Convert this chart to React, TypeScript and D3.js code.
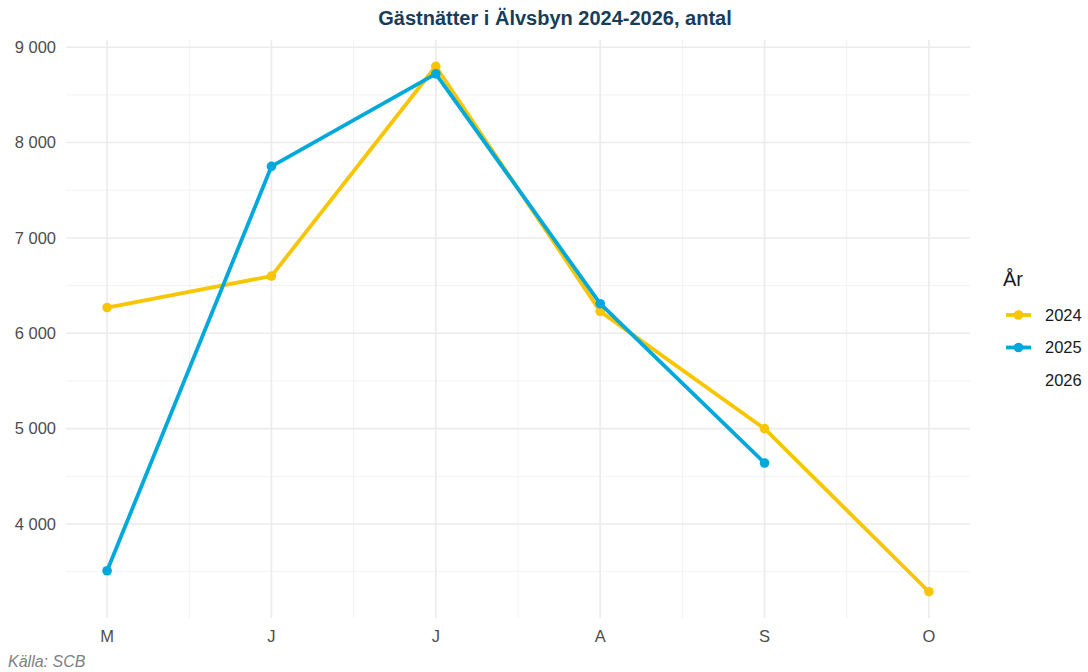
import * as d3 from 'd3';

const months = ['M', 'J', 'J', 'A', 'S', 'O'];
const years = ['2024', '2025', '2026'];
const values2024 = [6270, 6600, 8800, 6230, 5000, 3290];
const values2025 = [3510, 7750, 8720, 6310, 4640];
const yTicks = [4000, 5000, 6000, 7000, 8000, 9000];
const yMinor = [3500, 4500, 5500, 6500, 7500, 8500];
const colors: Record<string, string> = { '2024': '#F7C600', '2025': '#00A8DB' };

const W = 1088;
const H = 672;
const margin = { top: 40, right: 118, bottom: 54, left: 66 };
const font = '"Liberation Sans", Arial, sans-serif';

export default function App() {
  const innerW = W - margin.left - margin.right;
  const innerH = H - margin.top - margin.bottom;

  const x = d3
    .scalePoint<number>()
    .domain(months.map((_, i) => i))
    .range([0, innerW])
    .padding(0.25);

  const all = [...values2024, ...values2025];
  const lo = d3.min(all) as number;
  const hi = d3.max(all) as number;
  const pad = (hi - lo) * 0.05;
  const y = d3.scaleLinear().domain([lo - pad, hi + pad]).range([innerH, 0]);

  const step = x.step();
  const series = [
    { year: '2024', values: values2024 },
    { year: '2025', values: values2025 },
  ];

  const line = d3
    .line<number>()
    .x((_, i) => x(i) as number)
    .y((d) => y(d));

  return (
    <svg
      width={W}
      height={H}
      style={{ position: 'absolute', left: 0, top: 0, background: '#fff' }}
      fontFamily={font}
    >
      <text x={555} y={25} textAnchor="middle" fontSize={20} fontWeight="bold" fill="#163E5B">
        Gästnätter i Älvsbyn 2024-2026, antal
      </text>

      <g transform={`translate(${margin.left},${margin.top})`}>
        {/* minor grid */}
        {yMinor.map((v) => (
          <line key={'ym' + v} x1={0} x2={innerW} y1={y(v)} y2={y(v)} stroke="#F2F2F2" strokeWidth={1} />
        ))}
        {months.slice(0, -1).map((_, i) => {
          const xm = (x(i) as number) + step / 2;
          return <line key={'xm' + i} x1={xm} x2={xm} y1={0} y2={innerH} stroke="#F2F2F2" strokeWidth={1} />;
        })}
        {/* major grid */}
        {yTicks.map((v) => (
          <line key={'y' + v} x1={0} x2={innerW} y1={y(v)} y2={y(v)} stroke="#EBEBEB" strokeWidth={1.6} />
        ))}
        {months.map((_, i) => (
          <line
            key={'x' + i}
            x1={x(i) as number}
            x2={x(i) as number}
            y1={0}
            y2={innerH}
            stroke="#EBEBEB"
            strokeWidth={1.6}
          />
        ))}

        {/* axes labels */}
        {yTicks.map((v) => (
          <text key={'yl' + v} x={-10} y={y(v)} dy="0.35em" textAnchor="end" fontSize={16.5} fill="#4D4D4D">
            {d3.format(',')(v).replace(',', ' ')}
          </text>
        ))}
        {months.map((m, i) => (
          <text key={'xl' + i} x={x(i) as number} y={innerH + 24} textAnchor="middle" fontSize={16.5} fill="#4D4D4D">
            {m}
          </text>
        ))}

        {/* lines */}
        {series.map((s) => (
          <g key={s.year}>
            <path d={line(s.values) as string} fill="none" stroke={colors[s.year]} strokeWidth={3.8} strokeLinejoin="round" />
            {s.values.map((v, i) => (
              <circle key={i} cx={x(i) as number} cy={y(v)} r={4.8} fill={colors[s.year]} />
            ))}
          </g>
        ))}
      </g>

      {/* legend */}
      <g transform="translate(1003,0)">
        <text x={0} y={286} fontSize={20} fill="#1A1A1A">År</text>
        {years.map((yr, i) => {
          const cy = 315 + i * 32.5;
          return (
            <g key={yr}>
              {colors[yr] && (
                <>
                  <line x1={3} x2={28} y1={cy} y2={cy} stroke={colors[yr]} strokeWidth={3.8} />
                  <circle cx={15.5} cy={cy} r={4.8} fill={colors[yr]} />
                </>
              )}
              <text x={42} y={cy} dy="0.35em" fontSize={16.5} fill="#1A1A1A">{yr}</text>
            </g>
          );
        })}
      </g>

      <text x={8} y={667} fontSize={16} fontStyle="italic" fill="#808080">Källa: SCB</text>
    </svg>
  );
}
